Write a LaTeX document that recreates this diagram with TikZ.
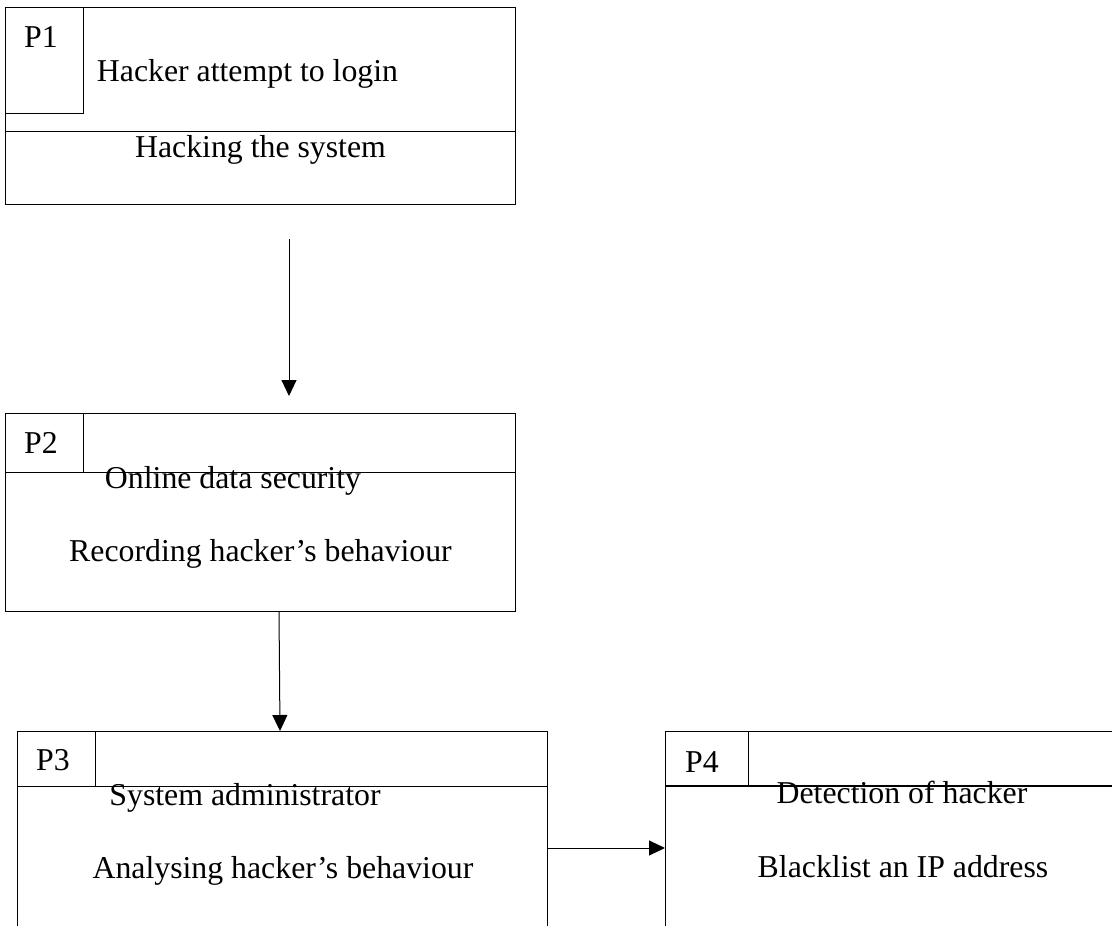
\documentclass[tikz,border=0pt]{standalone}
\usepackage{fontspec}
\setmainfont{Liberation Serif}
\usetikzlibrary{arrows.meta}
\begin{document}
\begin{tikzpicture}[x=1pt,y=-1pt,
  ln/.style={line width=1pt,draw=black},
  box/.style={ln,rectangle,inner sep=0pt,anchor=north west},
  lbl/.style={inner sep=0pt,anchor=base,font=\fontsize{31.8}{38}\selectfont},
  arr/.style={line width=1pt,-{Triangle[length=16pt,width=15pt]}}]
\useasboundingbox (0,0) rectangle (1112,926);
\clip (0,0) rectangle (1112,926);
% P1
\node[box,minimum width=510pt,minimum height=197pt] (p1) at (5,7) {};
\node[box,minimum width=78pt,minimum height=106pt] (p1id) at (5,7) {};
\draw[ln] (5,131) -- (515,131);
\node[lbl] (p1n) at (41,47) {P1};
\node[lbl] (p1a) at (247.5,81) {Hacker attempt to login};
\node[lbl] (p1b) at (260.5,157) {Hacking the system};
% P2
\node[box,minimum width=510pt,minimum height=198pt] (p2) at (5,413) {};
\node[box,minimum width=78pt,minimum height=59pt] (p2id) at (5,413) {};
\draw[ln] (83,472) -- (515,472);
\node[lbl] (p2n) at (41,453) {P2};
\node[lbl] (p2a) at (233,488) {Online data security};
\node[lbl] (p2b) at (260.5,561) {Recording hacker’s behaviour};
% P3
\node[box,minimum width=530pt,minimum height=260pt] (p3) at (17,731) {};
\node[box,minimum width=78pt,minimum height=55pt] (p3id) at (17,731) {};
\draw[ln] (95,786) -- (547,786);
\node[lbl] (p3n) at (53,770) {P3};
\node[lbl] (p3a) at (245,805) {System administrator};
\node[lbl] (p3b) at (283,878) {Analysing hacker’s behaviour};
% P4
\node[box,minimum width=520pt,minimum height=260pt] (p4) at (665,731) {};
\node[box,minimum width=83pt,minimum height=55pt] (p4id) at (665,731) {};
\draw[line width=2pt] (665,786) -- (1112,786);
\node[lbl] (p4n) at (702,772) {P4};
\node[lbl] (p4a) at (902,803) {Detection of hacker};
\node[lbl] (p4b) at (903,877) {Blacklist an IP address};
% connectors
\coordinate (a1s) at (289,239);
\coordinate (a1e) at (289,396);
\draw[arr] (a1s) -- (a1e);
\coordinate (a2s) at (279,611);
\coordinate (a2e) at (280,731);
\draw[arr] (a2s) -- (a2e);
\coordinate (a3s) at (547,848);
\coordinate (a3e) at (665,848);
\draw[arr] (a3s) -- (a3e);
\end{tikzpicture}
\end{document}
